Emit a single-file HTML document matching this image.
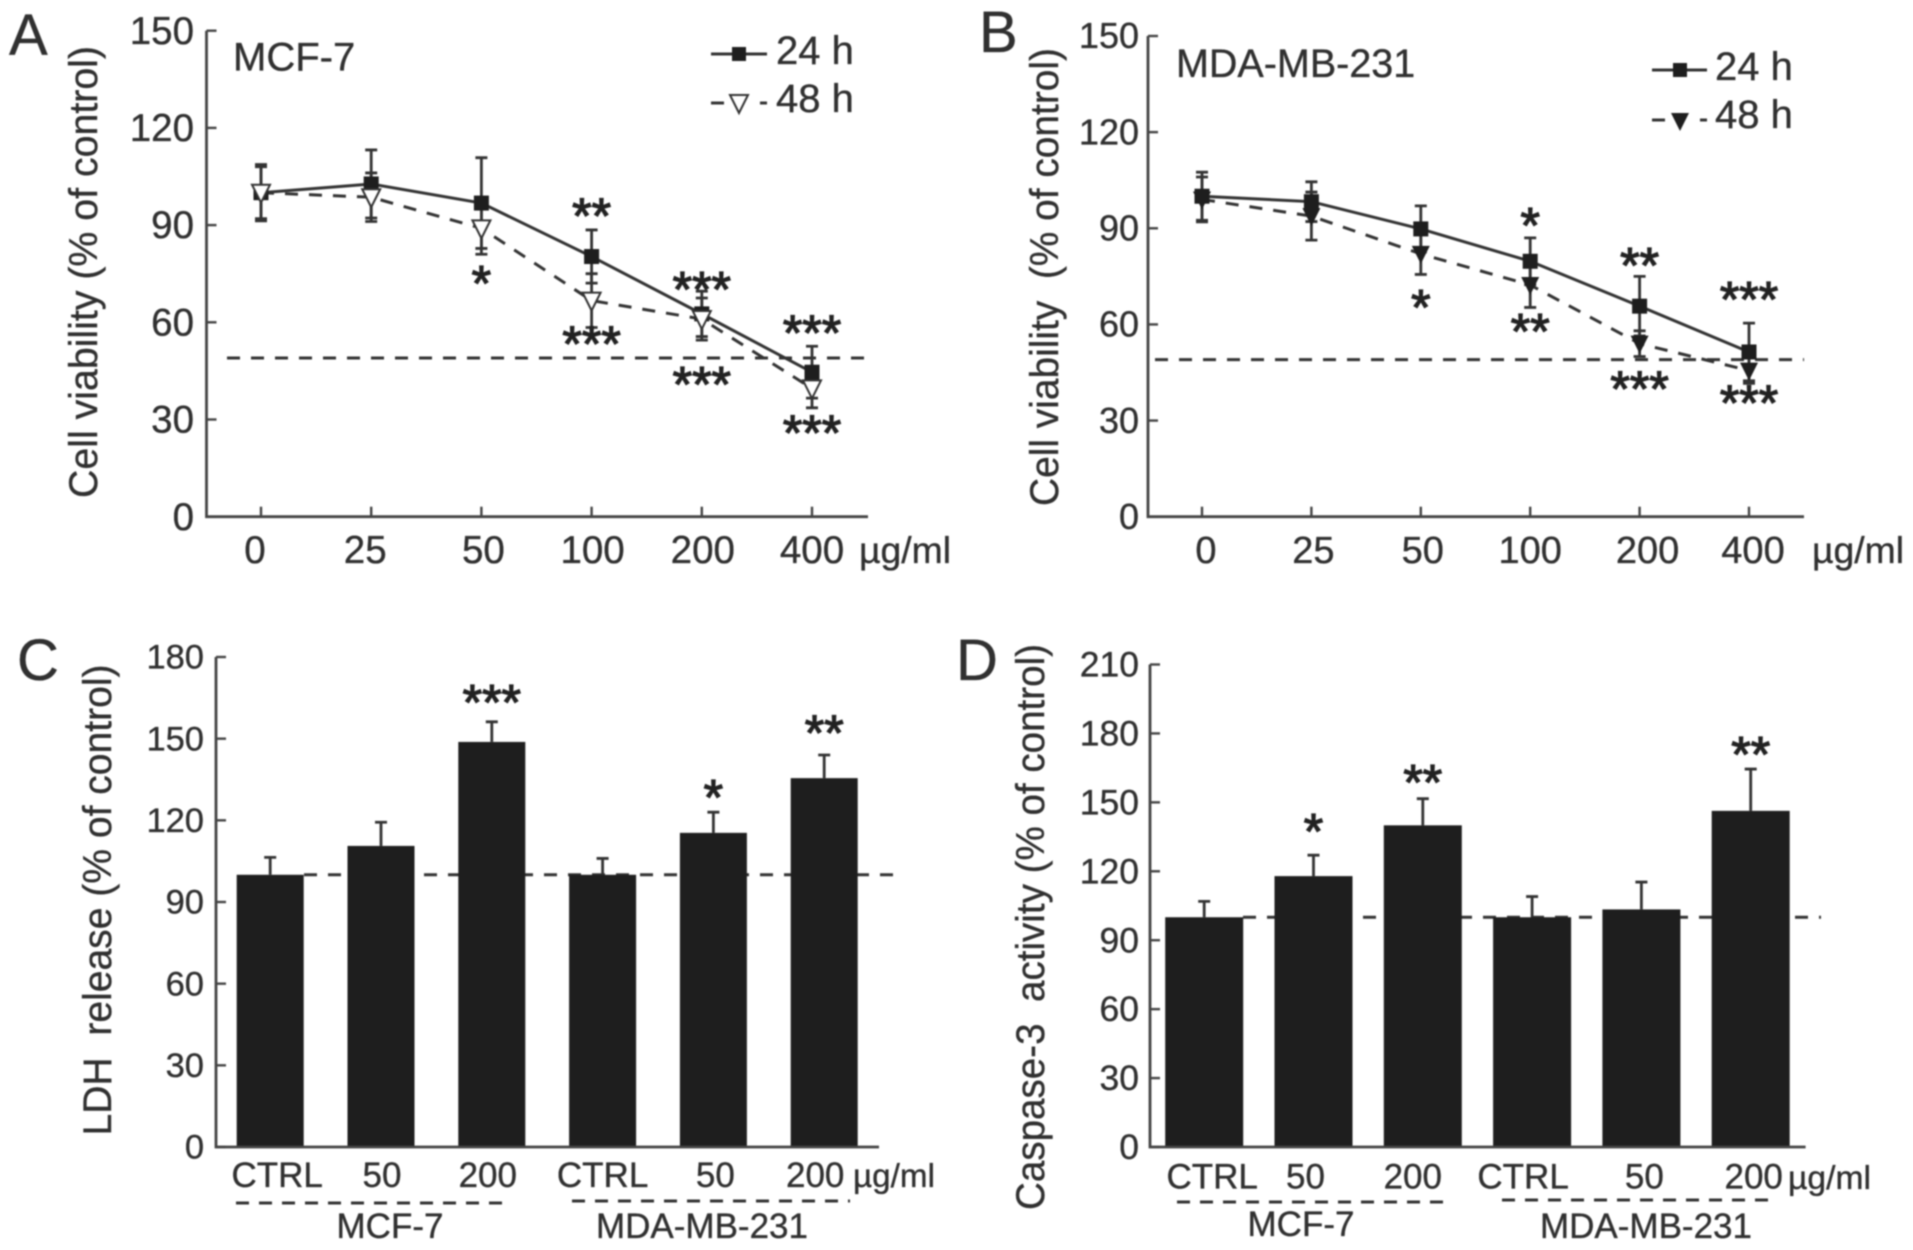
<!DOCTYPE html>
<html lang="en">
<head>
<meta charset="utf-8">
<title>Cell viability, LDH release and caspase-3 activity</title>
<style>
  html, body { margin: 0; padding: 0; background: #fff; width: 1913px; height: 1250px; overflow: hidden; }
  svg { display: block; filter: blur(0.7px); }
  text { font-family: "Liberation Sans", Arial, sans-serif; fill: #303030; stroke: #303030; stroke-width: 0.35px; white-space: pre; }
</style>
</head>
<body>
<svg id="figure" xmlns="http://www.w3.org/2000/svg" width="1913" height="1250" viewBox="0 0 1913 1250">
  <rect width="1913" height="1250" fill="#fff"/>

  <g id="panelA">
    <text x="9" y="55" font-size="58">A</text>
    <text transform="translate(97,272) rotate(-90)" text-anchor="middle" font-size="39.5" textLength="452" lengthAdjust="spacingAndGlyphs">Cell viability (% of control)</text>
    <text x="233" y="70.5" font-size="40">MCF-7</text>
    <text x="859" y="563" font-size="37" textLength="92" lengthAdjust="spacingAndGlyphs">µg/ml</text>
    <g>
      <line x1="711" y1="54" x2="767" y2="54" stroke="#333" stroke-width="3"/>
      <rect x="732" y="47" width="14" height="14" fill="#1e1e1e"/>
      <text x="776" y="64" font-size="40">24 h</text>
      <line x1="711" y1="103" x2="724" y2="103" stroke="#333" stroke-width="3"/>
      <line x1="760" y1="103" x2="767" y2="103" stroke="#333" stroke-width="3"/>
      <path d="M730 95 H748 L739 113 Z" fill="#fff" stroke="#333" stroke-width="2"/>
      <text x="776" y="112" font-size="40">48 h</text>
    </g>
  </g>

  <g id="panelB">
    <text x="979" y="52" font-size="58">B</text>
    <text transform="translate(1058,277) rotate(-90)" text-anchor="middle" font-size="39.5" textLength="458" lengthAdjust="spacingAndGlyphs">Cell viability  (% of control)</text>
    <text x="1176" y="77" font-size="39.5">MDA-MB-231</text>
    <text x="1812" y="563" font-size="37" textLength="92" lengthAdjust="spacingAndGlyphs">µg/ml</text>
    <g>
      <line x1="1652" y1="70" x2="1707" y2="70" stroke="#333" stroke-width="3"/>
      <rect x="1673" y="63" width="14" height="14" fill="#1e1e1e"/>
      <text x="1715" y="80" font-size="40">24 h</text>
      <line x1="1652" y1="120" x2="1665" y2="120" stroke="#333" stroke-width="3"/>
      <line x1="1700" y1="120" x2="1707" y2="120" stroke="#333" stroke-width="3"/>
      <path d="M1671 113 H1689 L1680 131 Z" fill="#1e1e1e"/>
      <text x="1715" y="128" font-size="40">48 h</text>
    </g>
  </g>

  <g id="panelC">
    <text x="17" y="680" font-size="58">C</text>
    <text transform="translate(111,900) rotate(-90)" text-anchor="middle" font-size="39.5" textLength="471" lengthAdjust="spacingAndGlyphs">LDH  release (% of control)</text>
    <text x="853" y="1187" font-size="33" textLength="82" lengthAdjust="spacingAndGlyphs">µg/ml</text>
    <line x1="236" y1="1203" x2="512" y2="1203" stroke="#333" stroke-width="3" stroke-dasharray="13 10"/>
    <line x1="572" y1="1201" x2="850" y2="1201" stroke="#333" stroke-width="3" stroke-dasharray="13 10"/>
    <text x="390" y="1238" text-anchor="middle" font-size="35">MCF-7</text>
    <text x="702" y="1238" text-anchor="middle" font-size="35">MDA-MB-231</text>
  </g>

  <g id="panelD">
    <text x="956" y="680" font-size="58">D</text>
    <text transform="translate(1044,927) rotate(-90)" text-anchor="middle" font-size="39.5" textLength="566" lengthAdjust="spacingAndGlyphs">Caspase-3  activity (% of control)</text>
    <text x="1788" y="1189" font-size="33" textLength="83" lengthAdjust="spacingAndGlyphs">µg/ml</text>
    <line x1="1177" y1="1202" x2="1449" y2="1202" stroke="#333" stroke-width="3" stroke-dasharray="13 10"/>
    <line x1="1502" y1="1200" x2="1775" y2="1200" stroke="#333" stroke-width="3" stroke-dasharray="13 10"/>
    <text x="1301" y="1236" text-anchor="middle" font-size="35">MCF-7</text>
    <text x="1646" y="1238" text-anchor="middle" font-size="35">MDA-MB-231</text>
  </g>
</svg>

<script>
// ---- Panel A / B (line charts) ----
const doseCategories = ['0', '25', '50', '100', '200', '400'];
const viabilityTicks = [0, 30, 60, 90, 120, 150];

const aViability24 = [100, 102.7, 96.8, 80.3, 62.6, 44.6];
const aError24 = [8.7, 10.5, 14, 8.2, 7, 8];
const aViability48 = [100, 98.6, 89, 66.7, 61, 39.6];
const aError48 = [8, 7.5, 8, 8.3, 6.5, 6];
const aReference = [49];
const aStars24 = ['', '', '', '**', '***', '***'];
const aStarLevels24 = [0, 0, 0, 95, 72.3, 58.8];
const aStars48 = ['', '', '*', '***', '***', '***'];
const aStarLevels48 = [0, 0, 74.2, 55.5, 43, 28];

const bViability24 = [100, 98.3, 89.8, 79.7, 65.7, 51.4];
const bError24 = [7.5, 6.2, 7.2, 7.3, 9.3, 9];
const bViability48 = [99, 93.8, 82, 72.3, 54, 45.6];
const bError48 = [7, 7.5, 6.4, 7, 4, 4];
const bReference = [49];
const bStars24 = ['', '', '', '*', '**', '***'];
const bStarLevels24 = [0, 0, 0, 93, 80.6, 69.9];
const bStars48 = ['', '', '*', '**', '***', '***'];
const bStarLevels48 = [0, 0, 67.5, 60, 42, 37.6];

// ---- Panel C / D (bar charts) ----
const treatmentCategories = ['CTRL', '50', '200', 'CTRL', '50', '200'];

const ldhTicks = [0, 30, 60, 90, 120, 150, 180];
const ldhValues = [100, 110.6, 148.8, 100, 115.4, 135.5];
const ldhErrors = [6.4, 8.7, 7.4, 6, 7.6, 8.5];
const ldhReference = [100];
const ldhStars = ['', '', '***', '', '*', '**'];
const ldhStarLevels = [0, 0, 165.9, 0, 131, 154.6];

const caspaseTicks = [0, 30, 60, 90, 120, 150, 180, 210];
const caspaseValues = [100, 117.9, 140, 100, 103.4, 146.3];
const caspaseErrors = [6.9, 9.1, 11.6, 9, 11.9, 18.2];
const caspaseReference = [100];
const caspaseStars = ['', '*', '**', '', '', '**'];
const caspaseStarLevels = [0, 140.3, 161.6, 0, 0, 173.8];

const SVG_NS = 'http://www.w3.org/2000/svg';
const INK = '#333';
const DARK = '#1e1e1e';
const DASH = '13 11';

function node(parent, tag, attrs, name) {
  const el = document.createElementNS(SVG_NS, tag);
  for (const key in attrs) el.setAttribute(key, attrs[key]);
  
  
  parent.appendChild(el);
  return el;
}

function makeScales(frame) {
  return {
    x: function (i) { return frame.xStart + i * frame.xStep; },
    y: function (v) { return frame.yZero - v * (frame.yZero - frame.yTop) / frame.yMax; }
  };
}

function drawAxes(g, frame, scale, ticks, prefix, categories, hasXTicks) {
  node(g, 'path', {
    d: 'M' + frame.axisX + ' ' + frame.yTop + ' V' + frame.yZero + ' H' + frame.axisRight,
    fill: 'none', stroke: '#444', 'stroke-width': 2.8
  }, prefix + '-axes');
  ticks.forEach(function (t) {
    const y = scale.y(t);
    node(g, 'line', { x1: frame.axisX, x2: frame.axisX + 10, y1: y, y2: y, stroke: '#444', 'stroke-width': 2.4 }, prefix + '-y-tick');
    const label = node(g, 'text', { x: frame.tickRight, y: y + frame.tickSize * 0.34, 'text-anchor': 'end', 'font-size': frame.tickSize }, prefix + '-y-tick-label');
    label.textContent = String(t);
  });
  categories.forEach(function (c, i) {
    const x = scale.x(i);
    if (hasXTicks) {
      node(g, 'line', { x1: x, x2: x, y1: frame.yZero - 10, y2: frame.yZero, stroke: '#444', 'stroke-width': 2.4 }, prefix + '-x-tick');
    }
    const label = node(g, 'text', { x: x + frame.labelNudge[i], y: frame.labelY, 'text-anchor': 'middle', 'font-size': frame.labelSize }, prefix + '-x-tick-label');
    label.textContent = c;
  });
}

function drawReference(g, frame, scale, level, prefix) {
  const y = scale.y(level);
  node(g, 'line', { x1: frame.refStart, x2: frame.refEnd, y1: y, y2: y, stroke: INK, 'stroke-width': 3, 'stroke-dasharray': DASH }, prefix + '-reference-line');
}

function drawStars(g, scale, stars, levels, prefix) {
  stars.forEach(function (s, i) {
    if (!s) return;
    const star = node(g, 'text', { x: scale.x(i), y: scale.y(levels[i]) + 24, 'text-anchor': 'middle', 'font-size': 50, style: 'fill:#222;stroke:#222;stroke-width:1.3px' }, prefix + '-significance-stars');
    star.textContent = s;
  });
}

function drawErrors(g, scale, values, errors, prefix) {
  values.forEach(function (v, i) {
    const x = scale.x(i);
    const top = scale.y(v + errors[i]);
    const bottom = scale.y(v - errors[i]);
    node(g, 'path', {
      d: 'M' + x + ' ' + top + ' V' + bottom + ' M' + (x - 6) + ' ' + top + ' H' + (x + 6) + ' M' + (x - 6) + ' ' + bottom + ' H' + (x + 6),
      fill: 'none', stroke: INK, 'stroke-width': 2.8
    }, prefix + '-error-bar');
  });
}

function drawSeriesLine(g, scale, values, dashed, prefix) {
  const d = values.map(function (v, i) { return (i ? 'L' : 'M') + scale.x(i) + ' ' + scale.y(v); }).join(' ');
  const attrs = { d: d, fill: 'none', stroke: INK, 'stroke-width': 3 };
  if (dashed) attrs['stroke-dasharray'] = DASH;
  node(g, 'path', attrs, prefix + '-line');
}

function drawSquares(g, scale, values, prefix) {
  values.forEach(function (v, i) {
    node(g, 'rect', { x: scale.x(i) - 7.5, y: scale.y(v) - 7.5, width: 15, height: 15, fill: DARK }, prefix + '-point');
  });
}

function drawTriangles(g, scale, values, open, prefix) {
  values.forEach(function (v, i) {
    const x = scale.x(i);
    const y = scale.y(v);
    node(g, 'path', {
      d: 'M' + (x - 9) + ' ' + (y - 8) + ' H' + (x + 9) + ' L' + x + ' ' + (y + 10) + ' Z',
      fill: open ? '#fff' : DARK,
      stroke: open ? INK : 'none',
      'stroke-width': 2
    }, prefix + '-point');
  });
}

function drawBars(g, frame, scale, values, prefix) {
  values.forEach(function (v, i) {
    const top = scale.y(v);
    node(g, 'rect', { x: scale.x(i) - frame.barWidth / 2, y: top, width: frame.barWidth, height: frame.yZero - top, fill: DARK }, prefix + '-bar');
  });
}

function drawBarErrors(g, scale, values, errors, prefix) {
  values.forEach(function (v, i) {
    const x = scale.x(i);
    const top = scale.y(v + errors[i]);
    node(g, 'path', {
      d: 'M' + x + ' ' + scale.y(v) + ' V' + top + ' M' + (x - 6) + ' ' + top + ' H' + (x + 6),
      fill: 'none', stroke: INK, 'stroke-width': 2.8
    }, prefix + '-error-bar');
  });
}

// Panel A
const frameA = { xStart: 261, xStep: 110.2, yZero: 516.7, yTop: 30.7, yMax: 150, axisX: 206.5, axisRight: 868, tickRight: 194, tickSize: 38.5, labelY: 563, labelSize: 38.5, labelNudge: [-6, -6, 2, 1, 1, 0], refStart: 227, refEnd: 868 };
const scaleA = makeScales(frameA);
const gA = document.getElementById('panelA');
drawReference(gA, frameA, scaleA, aReference[0], 'panel-a');
drawAxes(gA, frameA, scaleA, viabilityTicks, 'panel-a', doseCategories, true);
drawErrors(gA, scaleA, aViability24, aError24, 'panel-a-24h');
drawErrors(gA, scaleA, aViability48, aError48, 'panel-a-48h');
drawSeriesLine(gA, scaleA, aViability48, true, 'panel-a-48h');
drawSeriesLine(gA, scaleA, aViability24, false, 'panel-a-24h');
drawSquares(gA, scaleA, aViability24, 'panel-a-24h');
drawTriangles(gA, scaleA, aViability48, true, 'panel-a-48h');
drawStars(gA, scaleA, aStars24, aStarLevels24, 'panel-a-24h');
drawStars(gA, scaleA, aStars48, aStarLevels48, 'panel-a-48h');

// Panel B
const frameB = { xStart: 1202, xStep: 109.4, yZero: 516.7, yTop: 36, yMax: 150, axisX: 1148, axisRight: 1804, tickRight: 1139, tickSize: 36, labelY: 563, labelSize: 38, labelNudge: [4, 2, 2, 0, 8, 4], refStart: 1155, refEnd: 1804 };
const scaleB = makeScales(frameB);
const gB = document.getElementById('panelB');
drawReference(gB, frameB, scaleB, bReference[0], 'panel-b');
drawAxes(gB, frameB, scaleB, viabilityTicks, 'panel-b', doseCategories, true);
drawErrors(gB, scaleB, bViability48, bError48, 'panel-b-48h');
drawErrors(gB, scaleB, bViability24, bError24, 'panel-b-24h');
drawSeriesLine(gB, scaleB, bViability48, true, 'panel-b-48h');
drawSeriesLine(gB, scaleB, bViability24, false, 'panel-b-24h');
drawTriangles(gB, scaleB, bViability48, false, 'panel-b-48h');
drawSquares(gB, scaleB, bViability24, 'panel-b-24h');
drawStars(gB, scaleB, bStars24, bStarLevels24, 'panel-b-24h');
drawStars(gB, scaleB, bStars48, bStarLevels48, 'panel-b-48h');

// Panel C
const frameC = { xStart: 270.2, xStep: 110.8, yZero: 1147, yTop: 657, yMax: 180, axisX: 216, axisRight: 879, tickRight: 204, tickSize: 34.5, labelY: 1187, labelSize: 35, labelNudge: [7, 1, -4, 0, 2, -9], refStart: 304, refEnd: 896, barWidth: 67 };
const scaleC = makeScales(frameC);
const gC = document.getElementById('panelC');
drawReference(gC, frameC, scaleC, ldhReference[0], 'panel-c');
drawBarErrors(gC, scaleC, ldhValues, ldhErrors, 'panel-c');
drawBars(gC, frameC, scaleC, ldhValues, 'panel-c');
drawAxes(gC, frameC, scaleC, ldhTicks, 'panel-c', treatmentCategories, false);
drawStars(gC, scaleC, ldhStars, ldhStarLevels, 'panel-c');

// Panel D
const frameD = { xStart: 1204.2, xStep: 109.3, yZero: 1147, yTop: 664.5, yMax: 210, axisX: 1150, axisRight: 1805.6, tickRight: 1139, tickSize: 35.5, labelY: 1188.6, labelSize: 35, labelNudge: [8, -8, -10, -9, 3, 3], refStart: 1243, refEnd: 1821, barWidth: 78 };
const scaleD = makeScales(frameD);
const gD = document.getElementById('panelD');
drawReference(gD, frameD, scaleD, caspaseReference[0], 'panel-d');
drawBarErrors(gD, scaleD, caspaseValues, caspaseErrors, 'panel-d');
drawBars(gD, frameD, scaleD, caspaseValues, 'panel-d');
drawAxes(gD, frameD, scaleD, caspaseTicks, 'panel-d', treatmentCategories, false);
drawStars(gD, scaleD, caspaseStars, caspaseStarLevels, 'panel-d');
</script>
</body>
</html>
